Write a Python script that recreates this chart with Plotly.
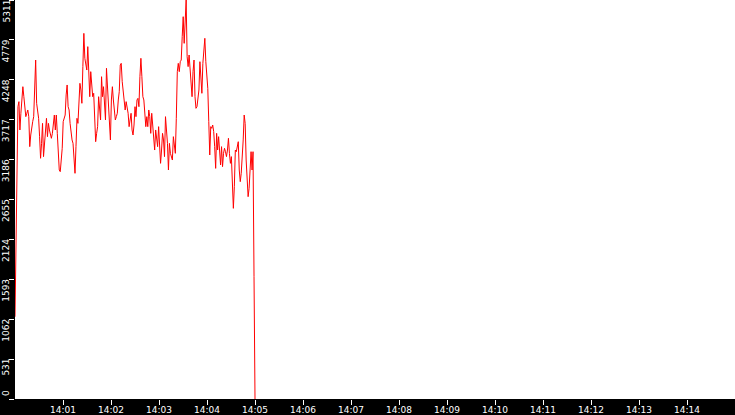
import pandas as pd
import plotly.graph_objects as go

# ---- data ----
values = [
    1095, 2160,
    3514, 3891, 3958, 3581, 3803, 3980, 4157, 4024, 3825, 3758, 3803, 3847, 3758, 3359,
    3514, 3625, 3692, 3758, 4113, 4512, 3936, 3803, 3736, 3492, 3204, 3403, 3669, 3226,
    3403, 3536, 3736, 3492, 3669, 3581, 3514, 3470, 3536, 3647, 3780, 3581, 3780, 3536,
    3181, 3048, 3026, 3181, 3337, 3692, 3758, 3780, 4047, 4180, 3891, 3847, 3669, 3536,
    3448, 3403, 3226, 3004, 3359, 3736, 3669, 4069, 4202, 4113, 3936, 4424, 4867, 4535,
    4468, 4379, 4690, 4224, 4024, 4357, 4113, 4024, 4069, 3625, 3425, 3536, 3625, 4024,
    3847, 3714, 4290, 4024, 4157, 3891, 3714, 4402, 4157, 3891, 3714, 3448, 3980, 4157,
    3980, 3803, 3714, 3758, 3803, 3980, 4091, 4446, 4468, 4224, 4113, 3980, 3847, 3958,
    3891, 3803, 3625, 3736, 3803, 3581, 3514, 3647, 3891, 3758, 3980, 4002, 3891, 4290,
    4535, 4290, 4024, 3980, 3847, 3625, 3758, 3625, 3847, 3758, 3536, 3803, 3647, 3448,
    3314, 3581, 3448, 3359, 3625, 3403, 3137, 3314, 3536, 3448, 3226, 3758, 3625, 3403,
    3048, 3403, 3270, 3226, 3181, 3492, 3359, 3270, 3736, 4357, 4468, 4357, 4490, 4512,
    4823, 5089, 4734, 5001, 5311, 4557, 4424, 4579, 4379, 4202, 4024, 4357, 4512, 4024,
    3869, 3891, 4069, 4113, 4490, 4290, 4069, 4468, 4645, 4801, 4490, 4290, 4135, 3692,
    3248, 3625, 3603, 3647, 3559, 3359, 3070, 3536, 3314, 3492, 3248, 3115, 3359, 3093,
    3270, 3337, 3292, 3226, 3314, 3470, 3270, 3137, 3226, 2915, 2538, 2826, 3314, 3292,
    3381, 3425, 3048, 2893, 3004, 3181, 3448, 3780, 3669, 3181, 2826, 2693, 2804, 3137,
    3292, 3048, 3292,
    1628, 0,
]
start_time = "2024-01-01 14:00:00"
end_time = "2024-01-01 14:05:00"
times = pd.date_range(start_time, end_time, periods=len(values))

y_tick_values = [0, 531, 1062, 1593, 2124, 2655, 3186, 3717, 4248, 4779, 5311]
x_tick_labels = ["14:01", "14:02", "14:03", "14:04", "14:05", "14:06", "14:07",
                 "14:08", "14:09", "14:10", "14:11", "14:12", "14:13", "14:14"]
x_tick_values = [pd.Timestamp("2024-01-01 " + t + ":00") for t in x_tick_labels]
x_range = [pd.Timestamp("2024-01-01 14:00:00"), pd.Timestamp("2024-01-01 14:15:00")]

FONT = "DejaVu Sans"

fig = go.Figure()
fig.add_trace(go.Scatter(
    x=times, y=values, mode="lines",
    line=dict(color="#ff0000", width=1),
    hoverinfo="skip", showlegend=False,
))

annotations = []
for v in y_tick_values:
    annotations.append(dict(
        x=-0.0125, xref="paper", y=v, yref="y",
        text=str(v), showarrow=False, textangle=-90,
        xanchor="center", yanchor="bottom" if v == 0 else "top",
        font=dict(family=FONT, size=9, color="white"),
        borderpad=0, yshift=2 if v == 0 else 1,
    ))

fig.update_layout(
    width=735, height=415,
    margin=dict(l=15, r=0, t=0, b=16, pad=0, autoexpand=False),
    paper_bgcolor="black", plot_bgcolor="white",
    annotations=annotations,
    xaxis=dict(
        range=x_range, tickvals=x_tick_values, ticktext=x_tick_labels,
        showgrid=False, zeroline=False, showline=False, automargin=False,
        ticks="outside", ticklen=5, tickwidth=1, tickcolor="white",
        ticklabelstandoff=-3,
        tickfont=dict(family=FONT, size=9, color="white"), tickangle=0,
    ),
    yaxis=dict(
        range=[0, 5311], tickvals=y_tick_values, showticklabels=False,
        showgrid=False, zeroline=False, showline=False, automargin=False,
        ticks="outside", ticklen=5, tickwidth=1, tickcolor="white",
    ),
)

fig.write_html(
    "out.html",
    config={"displayModeBar": False},
    post_script="document.body.style.margin='0';document.body.style.overflow='hidden';",
)
